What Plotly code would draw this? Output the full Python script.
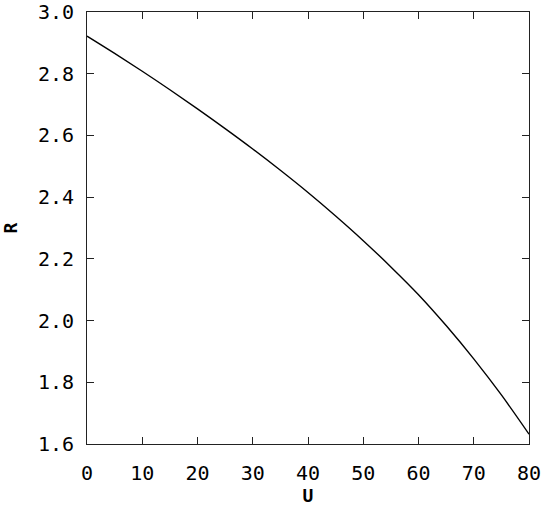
import plotly.graph_objects as go

U = [0, 5, 10, 15, 20, 25, 30, 35, 40, 45, 50, 55, 60, 65, 70, 75, 80]
R = [2.922, 2.866, 2.808, 2.748, 2.686, 2.622, 2.556, 2.487, 2.415, 2.339,
     2.259, 2.174, 2.084, 1.984, 1.876, 1.759, 1.632]

x_ticks = [0, 10, 20, 30, 40, 50, 60, 70, 80]
y_ticks = [1.6, 1.8, 2.0, 2.2, 2.4, 2.6, 2.8, 3.0]

FONT = "DejaVu Sans Mono"

fig = go.Figure()
fig.add_trace(go.Scatter(x=U, y=R, mode="lines", line=dict(color="black", width=1.4, shape="spline"),
                         showlegend=False, hoverinfo="skip"))

axis_common = dict(showgrid=False, zeroline=False, showline=True, linecolor="#222222", linewidth=1,
                   mirror="ticks", ticks="inside", ticklen=7, tickcolor="#222222", tickwidth=1,
                   automargin=False,
                   tickfont=dict(family=FONT, size=20, color="black"))

fig.update_xaxes(range=[0, 80], tickvals=x_ticks, ticktext=[str(v) for v in x_ticks],
                 title=dict(text="<b>U</b>", font=dict(family=FONT, size=18, color="black"), standoff=3),
                 ticklabelstandoff=11, **axis_common)
fig.update_yaxes(range=[1.6, 3.0], tickvals=y_ticks, ticktext=[f"{v:.1f}" for v in y_ticks],
                 title=dict(text="<b>R</b>", font=dict(family=FONT, size=18, color="black"), standoff=21),
                 ticklabelstandoff=8, **axis_common)

fig.update_layout(width=550, height=515, margin=dict(l=87, r=21, t=12, b=71),
                  paper_bgcolor="white", plot_bgcolor="white")

fig.write_html("out.html", config={"displayModeBar": False},
               post_script="document.body.style.margin='0';")
